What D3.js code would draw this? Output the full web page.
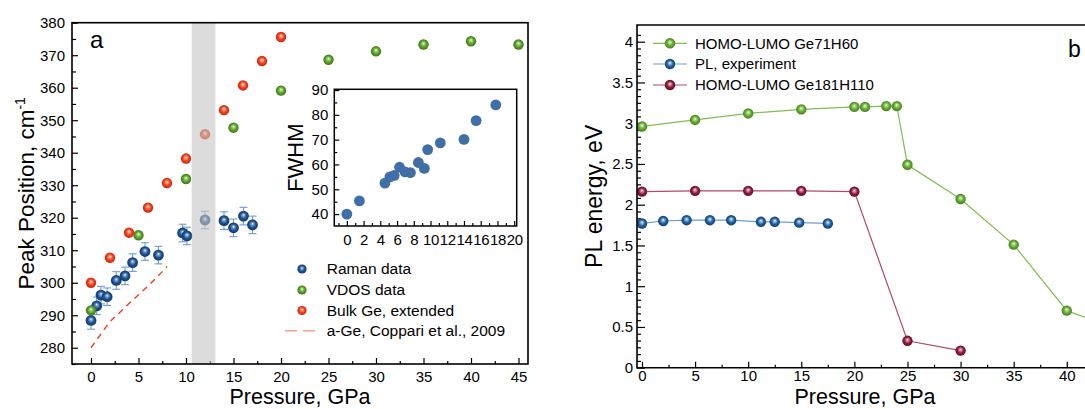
<!DOCTYPE html>
<html>
<head>
<meta charset="utf-8">
<script src="https://cdn.jsdelivr.net/npm/d3@7"></script>
<style>
  html, body { margin: 0; padding: 0; background: #fff; }
  svg { display: block; font-family: "Liberation Sans", Arial, sans-serif; }
</style>
</head>
<body>
<svg id="chart" width="1085" height="409"></svg>
<script>
// ---------- Panel a data ----------
const ramanP = [0, 0.6, 1.05, 1.7, 2.66, 3.58, 4.38, 5.68, 7.1, 9.64, 10.1, 12.0, 14.0, 15.0, 16.05, 17.0];
const ramanV = [288.4, 292.9, 296.2, 295.7, 300.7, 302.1, 306.2, 309.6, 308.5, 315.3, 314.4, 319.3, 319.1, 316.9, 320.5, 317.8];
const ramanErr = [1.6, 1.6, 1.6, 1.6, 1.6, 1.6, 1.6, 1.6, 1.6, 1.6, 1.6, 1.6, 1.6, 1.6, 1.6, 1.6];
const vdosP = [0, 5, 10, 15, 20, 25, 30, 35, 40, 45];
const vdosV = [291.5, 314.6, 331.9, 347.7, 359.1, 368.6, 371.2, 373.3, 374.3, 373.3];
const bulkP = [0, 2, 4, 6, 8, 10, 12, 14, 16, 18, 20];
const bulkV = [300, 307.7, 315.4, 323.1, 330.7, 338.2, 345.7, 353.1, 360.7, 368.2, 375.6];
const coppariP = [0, 1, 2, 3, 4, 5, 6, 7, 8];
const coppariV = [280, 284, 288, 290.8, 293.6, 296.3, 299, 301.9, 305];
const bandRange = [10.6, 13.1];
const aXTicks = [0, 5, 10, 15, 20, 25, 30, 35, 40, 45];
const aYTicks = [280, 290, 300, 310, 320, 330, 340, 350, 360, 370, 380];
const aLegend = ["Raman data", "VDOS data", "Bulk Ge, extended", "a-Ge, Coppari et al., 2009"];

// ---------- Inset data ----------
const fwhmP = [0, 1.5, 4.55, 5.15, 5.66, 6.3, 6.95, 7.6, 8.55, 9.26, 9.66, 11.17, 14.0, 15.45, 17.8];
const fwhmV = [40, 45.3, 52.5, 55, 55.6, 58.9, 57, 56.7, 60.8, 58.4, 66, 68.7, 70.1, 77.7, 84];
const insetXTicks = [0, 2, 4, 6, 8, 10, 12, 14, 16, 18, 20];
const insetYTicks = [40, 50, 60, 70, 80, 90];

// ---------- Panel b data ----------
const ge71P = [0, 5, 10, 15, 20, 21, 23, 24, 25, 30, 35, 40, 45];
const ge71V = [2.96, 3.04, 3.12, 3.17, 3.2, 3.2, 3.21, 3.21, 2.49, 2.07, 1.51, 0.70, 0.46];
const plP = [0, 2, 4.2, 6.4, 8.4, 11.2, 12.5, 14.8, 17.5];
const plV = [1.77, 1.80, 1.81, 1.81, 1.81, 1.79, 1.79, 1.78, 1.77];
const ge181P = [0, 5, 10, 15, 20, 25, 30];
const ge181V = [2.16, 2.17, 2.17, 2.17, 2.16, 0.33, 0.21];
const bXTicks = [0, 5, 10, 15, 20, 25, 30, 35, 40];
const bYTicks = [0, 0.5, 1, 1.5, 2, 2.5, 3, 3.5, 4];
const bYTickLabels = ["0", "0.5", "1", "1.5", "2", "2.5", "3", "3.5", "4"];
const bLegend = ["HOMO-LUMO Ge71H60", "PL, experiment", "HOMO-LUMO Ge181H110"];

const svg = d3.select("#chart");
const defs = svg.append("defs");

function ballGradient(id, light, base, dark) {
  const g = defs.append("radialGradient").attr("id", id)
    .attr("cx", "50%").attr("cy", "50%").attr("r", "50%")
    .attr("fx", "50%").attr("fy", "38%");
  g.append("stop").attr("offset", "0%").attr("stop-color", "#ffffff");
  g.append("stop").attr("offset", "22%").attr("stop-color", light);
  g.append("stop").attr("offset", "60%").attr("stop-color", base);
  g.append("stop").attr("offset", "100%").attr("stop-color", dark);
}
ballGradient("gBlue", "#7aa3d6", "#1e508f", "#123a6e");
ballGradient("gGreen", "#a8d67a", "#5a9e2a", "#3e7a18");
ballGradient("gOrange", "#ff9a7a", "#f23c1c", "#c82a0e");
ballGradient("gGreen2", "#b2dc88", "#63a832", "#46841e");
ballGradient("gBlue2", "#8fb5e2", "#205f9f", "#143f73");
ballGradient("gRed2", "#d88aa0", "#8c1c3a", "#64102a");

const FONT = "Liberation Sans, Arial, sans-serif";

function styleAxis(g, fs) {
  g.select(".domain").remove();
  g.selectAll(".tick line").attr("stroke", "#000").attr("stroke-width", 1.2);
  g.selectAll(".tick text").attr("font-size", fs).attr("font-family", FONT).attr("fill", "#000");
}

// =============== Panel a ===============
const A = { l: 72, r: 528, t: 22.7, b: 364 };
const xa = d3.scaleLinear().domain([-2, 46]).range([A.l, A.r]);
const ya = d3.scaleLinear().domain([275, 380]).range([A.b, A.t]);

const ga = svg.append("g");

// axes
const axA_x = ga.append("g").attr("transform", `translate(0,${A.b})`)
  .call(d3.axisBottom(xa).tickValues(aXTicks).tickSizeInner(-6).tickSizeOuter(0).tickPadding(7));
styleAxis(axA_x, 15);
const axA_xm = ga.append("g").attr("transform", `translate(0,${A.b})`)
  .call(d3.axisBottom(xa).tickValues(d3.range(-2.5, 46, 2.5).filter(v => v >= -2 && v % 5 !== 0)).tickSizeInner(-3).tickSizeOuter(0).tickFormat(""));
styleAxis(axA_xm, 15);
const axA_y = ga.append("g").attr("transform", `translate(${A.l},0)`)
  .call(d3.axisLeft(ya).tickValues(aYTicks).tickSizeInner(-6).tickSizeOuter(0).tickPadding(7));
styleAxis(axA_y, 15);
const axA_ym = ga.append("g").attr("transform", `translate(${A.l},0)`)
  .call(d3.axisLeft(ya).tickValues(d3.range(275, 380, 10)).tickSizeInner(-4).tickSizeOuter(0).tickFormat(""));
styleAxis(axA_ym, 15);

// coppari dashed line
const lineA = d3.line().x((d, i) => xa(coppariP[i])).y(d => ya(d)).curve(d3.curveMonotoneX);
ga.append("path").attr("d", lineA(coppariV))
  .attr("fill", "none").attr("stroke", "#f03c1e").attr("stroke-width", 1.4)
  .attr("stroke-dasharray", "6,5");

// error bars
ramanV.forEach((v, i) => {
  const x = xa(ramanP[i]);
  const y1 = ya(v - ramanErr[i] - 1.1), y2 = ya(v + ramanErr[i] + 1.1);
  ga.append("line").attr("x1", x).attr("x2", x).attr("y1", y1).attr("y2", y2)
    .attr("stroke", "#6f9cd6").attr("stroke-width", 1.1);
  [y1, y2].forEach(yy => ga.append("line").attr("x1", x - 4).attr("x2", x + 4).attr("y1", yy).attr("y2", yy)
    .attr("stroke", "#6f9cd6").attr("stroke-width", 1.1));
});

// points
ga.selectAll(".raman").data(ramanV).enter().append("circle")
  .attr("cx", (d, i) => xa(ramanP[i])).attr("cy", d => ya(d)).attr("r", 5.4)
  .attr("fill", "url(#gBlue)");
ga.selectAll(".bulk").data(bulkV).enter().append("circle")
  .attr("cx", (d, i) => xa(bulkP[i])).attr("cy", d => ya(d)).attr("r", 5.2)
  .attr("fill", "url(#gOrange)");
ga.selectAll(".vdos").data(vdosV).enter().append("circle")
  .attr("cx", (d, i) => xa(vdosP[i])).attr("cy", d => ya(d)).attr("r", 5.2)
  .attr("fill", "url(#gGreen)");

// gray band
ga.append("rect").attr("x", xa(bandRange[0])).attr("y", A.t)
  .attr("width", xa(bandRange[1]) - xa(bandRange[0])).attr("height", A.b - A.t)
  .attr("fill", "#c4c4c4").attr("opacity", 0.6);

// frame
ga.append("rect").attr("x", A.l).attr("y", A.t).attr("width", A.r - A.l).attr("height", A.b - A.t)
  .attr("fill", "none").attr("stroke", "#000").attr("stroke-width", 1.6);

// panel label
ga.append("text").attr("x", 90).attr("y", 47.5).attr("font-size", 24).attr("font-family", FONT).text("a");

// axis titles
ga.append("text").attr("x", (A.l + A.r) / 2).attr("y", 404).attr("text-anchor", "middle")
  .attr("font-size", 21.5).attr("font-family", FONT).text("Pressure, GPa");
const ytA = ga.append("text").attr("transform", `translate(34,${(A.t + A.b) / 2}) rotate(-90)`)
  .attr("text-anchor", "middle").attr("font-size", 22.5).attr("font-family", FONT);
ytA.append("tspan").text("Peak Position, cm");
ytA.append("tspan").attr("dy", -9).attr("font-size", 14).text("-1");

// legend
const legY = [269, 290, 310.5, 330.7];
const legFill = ["url(#gBlue)", "url(#gGreen)", "url(#gOrange)"];
aLegend.forEach((t, i) => {
  if (i < 3) {
    ga.append("circle").attr("cx", 302).attr("cy", legY[i]).attr("r", 4.6).attr("fill", legFill[i]);
  } else {
    ga.append("line").attr("x1", 285).attr("x2", 316).attr("y1", legY[i]).attr("y2", legY[i])
      .attr("stroke", "#f7a090").attr("stroke-width", 1.4).attr("stroke-dasharray", "12,6");
  }
  ga.append("text").attr("x", 326.7).attr("y", legY[i]).attr("dy", "0.35em")
    .attr("font-size", 15.5).attr("font-family", FONT).text(t);
});

// ---------- inset ----------
const I = { l: 334.3, r: 516.7, t: 89.3, b: 226 };
const xi = d3.scaleLinear().domain([-1.5, 20.3]).range([I.l, I.r]);
const yi = d3.scaleLinear().domain([35.2, 90.3]).range([I.b, I.t]);
const gi = svg.append("g");
gi.append("rect").attr("x", I.l).attr("y", I.t).attr("width", I.r - I.l).attr("height", I.b - I.t).attr("fill", "#fff");
const axI_x = gi.append("g").attr("transform", `translate(0,${I.b})`)
  .call(d3.axisBottom(xi).tickValues(insetXTicks).tickSizeInner(-5).tickSizeOuter(0).tickPadding(8));
styleAxis(axI_x, 15);
axI_x.selectAll(".tick text").attr("letter-spacing", "-0.3px");
const axI_xm = gi.append("g").attr("transform", `translate(0,${I.b})`)
  .call(d3.axisBottom(xi).tickValues(d3.range(-1, 20.5, 1).filter(v => v % 2 !== 0)).tickSizeInner(-3).tickSizeOuter(0).tickFormat(""));
styleAxis(axI_xm, 15);
const axI_y = gi.append("g").attr("transform", `translate(${I.l},0)`)
  .call(d3.axisLeft(yi).tickValues(insetYTicks).tickSizeInner(-5).tickSizeOuter(0).tickPadding(6));
styleAxis(axI_y, 15);
const axI_ym = gi.append("g").attr("transform", `translate(${I.l},0)`)
  .call(d3.axisLeft(yi).tickValues([45, 55, 65, 75, 85]).tickSizeInner(-3).tickSizeOuter(0).tickFormat(""));
styleAxis(axI_ym, 15);
gi.selectAll(".fw").data(fwhmV).enter().append("circle")
  .attr("cx", (d, i) => xi(fwhmP[i])).attr("cy", d => yi(d)).attr("r", 5.4)
  .attr("fill", "#3f6fa6");
gi.append("rect").attr("x", I.l).attr("y", I.t).attr("width", I.r - I.l).attr("height", I.b - I.t)
  .attr("fill", "none").attr("stroke", "#000").attr("stroke-width", 1.5);
gi.append("text").attr("transform", `translate(303,${(I.t + I.b) / 2}) rotate(-90)`)
  .attr("text-anchor", "middle").attr("font-size", 22).attr("font-family", FONT).text("FWHM");

// =============== Panel b ===============
const B = { l: 637, r: 1093, t: 25, b: 367.7 };
const xb = d3.scaleLinear().domain([-0.47, 42.47]).range([B.l, B.r]);
const yb = d3.scaleLinear().domain([0, 4.205]).range([B.b, B.t]);
const gb = svg.append("g");

defs.append("clipPath").attr("id", "clipB").append("rect")
  .attr("x", B.l).attr("y", B.t).attr("width", B.r - B.l).attr("height", B.b - B.t);

const axB_x = gb.append("g").attr("transform", `translate(0,${B.b})`)
  .call(d3.axisBottom(xb).tickValues(bXTicks).tickSizeInner(-6).tickSizeOuter(0).tickPadding(3));
styleAxis(axB_x, 15);
const axB_xm = gb.append("g").attr("transform", `translate(0,${B.b})`)
  .call(d3.axisBottom(xb).tickValues(d3.range(2.5, 42.5, 5)).tickSizeInner(-3).tickSizeOuter(0).tickFormat(""));
styleAxis(axB_xm, 15);
const axB_y = gb.append("g").attr("transform", `translate(${B.l},0)`)
  .call(d3.axisLeft(yb).tickValues(bYTicks).tickFormat((d, i) => bYTickLabels[i]).tickSizeInner(-8).tickSizeOuter(0).tickPadding(4));
styleAxis(axB_y, 15);
const minorB = d3.range(0, 50).map(k => k * 0.5 / 6).filter(v => v <= 4.2 && Math.abs(v * 2 - Math.round(v * 2)) > 1e-6);
const axB_ym = gb.append("g").attr("transform", `translate(${B.l},0)`)
  .call(d3.axisLeft(yb).tickValues(minorB).tickSizeInner(-4).tickSizeOuter(0).tickFormat(""));
styleAxis(axB_ym, 15);

const gData = gb.append("g").attr("clip-path", "url(#clipB)");
function series(P, V, lineColor, grad) {
  const ln = d3.line().x((d, i) => xb(P[i])).y(d => yb(d));
  gData.append("path").attr("d", ln(V)).attr("fill", "none").attr("stroke", lineColor).attr("stroke-width", 1.2);
  gData.selectAll(null).data(V).enter().append("circle")
    .attr("cx", (d, i) => xb(P[i])).attr("cy", d => yb(d)).attr("r", 5.2).attr("fill", grad);
}
series(ge181P, ge181V, "#b04a66", "url(#gRed2)");
series(plP, plV, "#6c9bd2", "url(#gBlue2)");
series(ge71P, ge71V, "#80bd52", "url(#gGreen2)");

// frame (left, top, bottom)
gb.append("path").attr("d", `M${B.r},${B.t}H${B.l}V${B.b}H${B.r}`)
  .attr("fill", "none").attr("stroke", "#000").attr("stroke-width", 1.6);

// legend
const bLegY = [43.3, 64, 85];
const bLegLine = ["#80bd52", "#6c9bd2", "#b04a66"];
const bLegFill = ["url(#gGreen2)", "url(#gBlue2)", "url(#gRed2)"];
bLegend.forEach((t, i) => {
  gb.append("line").attr("x1", 653).attr("x2", 687).attr("y1", bLegY[i]).attr("y2", bLegY[i])
    .attr("stroke", bLegLine[i]).attr("stroke-width", 1.2);
  gb.append("circle").attr("cx", 670).attr("cy", bLegY[i]).attr("r", 5.2).attr("fill", bLegFill[i]);
  gb.append("text").attr("x", 695).attr("y", bLegY[i]).attr("dy", "0.35em")
    .attr("font-size", 15).attr("font-family", FONT).text(t);
});

gb.append("text").attr("x", 1068).attr("y", 57).attr("font-size", 23).attr("font-family", FONT).text("b");

gb.append("text").attr("x", 865).attr("y", 404.3).attr("text-anchor", "middle")
  .attr("font-size", 21.5).attr("font-family", FONT).text("Pressure, GPa");
gb.append("text").attr("transform", `translate(602,${(B.t + B.b) / 2}) rotate(-90)`)
  .attr("text-anchor", "middle").attr("font-size", 23).attr("font-family", FONT).text("PL energy, eV");
</script>
</body>
</html>
